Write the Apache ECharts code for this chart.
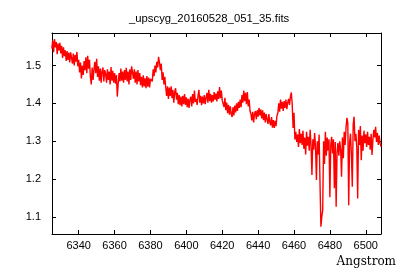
<!DOCTYPE html>
<html>
<head>
<meta charset="utf-8">
<script src="https://cdn.jsdelivr.net/npm/echarts@6/dist/echarts.min.js"></script>
<style>html,body{margin:0;padding:0;background:#fff}#c{width:400px;height:280px}</style>
</head>
<body>
<div id="c"></div>
<script>
const chartTitle = "_upscyg_20160528_051_35.fits";
const xAxisTitle = "Angstrom";
const lambdaStart = 6325.0;   // first wavelength sample (Angstrom)
const lambdaStep = 0.5;       // sample spacing (Angstrom)
const xRange = [6325.1, 6508.5];
const yRange = [1.055, 1.586];

// flux samples, 6325.0 .. 6459.5
const fluxBlue = [
  1.545,1.566,1.535,1.570,1.548,1.562,1.530,1.558,1.540,1.560,
  1.532,1.552,1.520,1.548,1.525,1.540,1.512,1.538,1.515,1.534,
  1.508,1.535,1.520,1.505,1.532,1.500,1.528,1.510,1.536,1.498,
  1.515,1.482,1.508,1.466,1.500,1.475,1.512,1.488,1.522,1.480,
  1.526,1.492,1.515,1.470,1.450,1.495,1.462,1.490,1.510,1.480,
  1.518,1.470,1.498,1.460,1.492,1.455,1.485,1.495,1.458,1.488,
  1.478,1.455,1.490,1.462,1.484,1.450,1.496,1.460,1.486,1.455,
  1.480,1.452,1.475,1.418,1.452,1.480,1.458,1.492,1.460,1.484,
  1.455,1.488,1.462,1.494,1.458,1.484,1.450,1.490,1.462,1.498,
  1.500,1.465,1.490,1.455,1.484,1.450,1.488,1.458,1.480,1.448,
  1.470,1.442,1.474,1.445,1.466,1.440,1.472,1.444,1.468,1.442,
  1.465,1.470,1.458,1.490,1.472,1.500,1.482,1.510,1.495,1.523,
  1.508,1.488,1.505,1.462,1.482,1.450,1.470,1.442,1.420,1.445,
  1.412,1.442,1.420,1.445,1.414,1.436,1.402,1.430,1.440,1.410,
  1.428,1.398,1.422,1.395,1.418,1.392,1.420,1.398,1.425,1.396,
  1.416,1.390,1.412,1.388,1.410,1.418,1.392,1.425,1.400,1.434,
  1.404,1.412,1.396,1.420,1.436,1.402,1.420,1.395,1.418,1.400,
  1.422,1.398,1.415,1.428,1.402,1.436,1.406,1.425,1.402,1.422,
  1.405,1.430,1.410,1.426,1.405,1.432,1.412,1.443,1.414,1.434,
  1.408,1.412,1.390,1.415,1.382,1.402,1.374,1.396,1.370,1.392,
  1.372,1.364,1.390,1.368,1.394,1.376,1.400,1.380,1.404,1.388,
  1.410,1.390,1.422,1.402,1.434,1.406,1.428,1.398,1.430,1.392,
  1.410,1.380,1.372,1.355,1.378,1.350,1.372,1.380,1.358,1.382,
  1.365,1.388,1.368,1.384,1.360,1.382,1.356,1.376,1.350,1.372,
  1.358,1.346,1.372,1.350,1.342,1.364,1.336,1.356,1.335,1.354,
  1.340,1.368,1.374,1.400,1.378,1.410,1.386,1.404,1.380,1.406,
  1.388,1.410,1.385,1.402,1.412,1.396,1.418,1.429,1.398,1.335
];
// flux samples, 6460.0 .. 6508.5
const fluxRed = [
  1.375,1.305,1.325,1.298,1.318,1.285,1.332,1.295,1.320,1.290,
  1.328,1.280,1.310,1.265,1.325,1.288,1.312,1.275,1.330,1.290,
  1.211,1.305,1.278,1.322,1.285,1.198,1.300,1.265,1.318,1.190,
  1.074,1.100,1.118,1.300,1.240,1.325,1.262,1.310,1.275,1.305,
  1.152,1.290,1.312,1.268,1.305,1.176,1.298,1.127,1.270,1.295,
  1.262,1.300,1.278,1.206,1.310,1.255,1.325,1.290,1.335,1.362,
  1.348,1.131,1.298,1.320,1.265,1.180,1.345,1.365,1.300,1.320,
  1.285,1.149,1.330,1.290,1.340,1.250,1.315,1.275,1.328,1.295,
  1.318,1.285,1.325,1.290,1.312,1.278,1.320,1.264,1.305,1.330,
  1.310,1.338,1.298,1.322,1.290,1.315,1.295,1.286
];

const flux = fluxBlue.concat(fluxRed);
const points = flux.map((v, i) => [lambdaStart + lambdaStep * i, v]);

const chart = echarts.init(document.getElementById('c'), null, {renderer: 'canvas'});
const font = 'Liberation Sans, Arial, sans-serif';
const axLine = {show: true, onZero: false, lineStyle: {color: '#000', width: 1}};
const tick = {show: true, inside: true, length: 4, lineStyle: {color: '#000', width: 1}};

chart.setOption({
  animation: false,
  backgroundColor: '#fff',
  grid: {left: 52, right: 19, top: 33, bottom: 46, containLabel: false},
  xAxis: [
    {type: 'value', position: 'bottom', min: xRange[0], max: xRange[1], splitNumber: 9,
     axisLine: axLine, axisTick: tick, splitLine: {show: false},
     axisLabel: {show: true, margin: 6, color: '#000', fontSize: 11, fontFamily: font,
                 showMinLabel: false, showMaxLabel: false, formatter: v => String(v)}},
    {type: 'value', position: 'top', min: xRange[0], max: xRange[1], splitNumber: 9,
     axisLine: axLine, axisTick: tick, splitLine: {show: false}, axisLabel: {show: false}}
  ],
  yAxis: [
    {type: 'value', position: 'left', min: yRange[0], max: yRange[1], splitNumber: 5,
     axisLine: axLine, axisTick: tick, splitLine: {show: false},
     axisLabel: {show: true, margin: 11, color: '#000', fontSize: 11, fontFamily: font,
                 showMinLabel: false, showMaxLabel: false}},
    {type: 'value', position: 'right', min: yRange[0], max: yRange[1], splitNumber: 5,
     axisLine: axLine, axisTick: tick, splitLine: {show: false}, axisLabel: {show: false}}
  ],
  graphic: [
    {type: 'text', left: 129, top: 13, style: {text: chartTitle, font: '11.3px ' + font, fill: '#000'}},
    {type: 'text', right: 4, top: 256, style: {text: xAxisTitle, font: '12px DejaVu Serif, serif', fill: '#000'}}
  ],
  series: [{
    type: 'line', xAxisIndex: 0, yAxisIndex: 0, data: points, showSymbol: false, symbol: 'none',
    lineStyle: {color: '#ff0000', width: 1.4}, clip: true
  }]
});
</script>
</body>
</html>
